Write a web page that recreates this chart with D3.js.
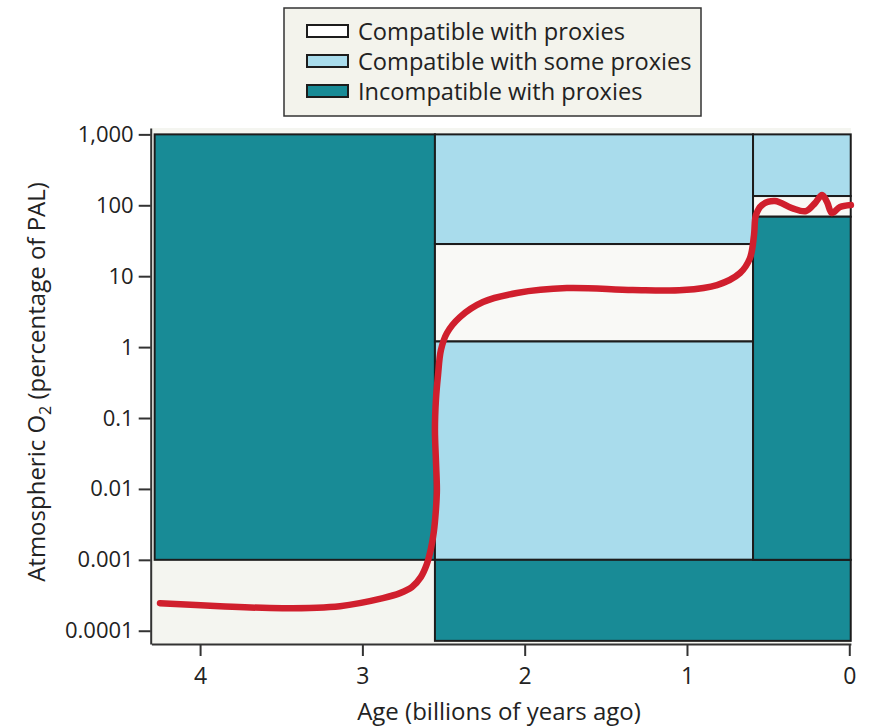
<!DOCTYPE html>
<html>
<head>
<meta charset="utf-8">
<script src="https://cdn.jsdelivr.net/npm/d3@7"></script>
<style>
  html, body { margin: 0; padding: 0; background: #ffffff; }
  svg { display: block; }
  text { font-family: "Open Sans", "DejaVu Sans", sans-serif; fill: #222; }
</style>
</head>
<body>
<svg id="chart" width="875" height="727"></svg>
<script>
// Axis ticks
const xTicks = [4, 3, 2, 1, 0];
const xTickLabels = ["4", "3", "2", "1", "0"];
const yTicks = [1000, 100, 10, 1, 0.1, 0.01, 0.001, 0.0001];
const yTickLabels = ["1,000", "100", "10", "1", "0.1", "0.01", "0.001", "0.0001"];

// Constraint boxes: age span (Ga), O2 span (% PAL) and proxy class
const boxAgeOld   = [4.28, 2.553, 2.553, 2.553, 2.553, 0.593, 0.593, 0.593];
const boxAgeYoung = [2.553, 0.593, 0.593, 0.593, -0.009, -0.009, -0.009, -0.009];
const boxLow      = [0.001, 28.4, 1.2, 0.001, 7.2e-5, 135, 69, 0.001];
const boxHigh     = [1000, 1000, 28.4, 1.2, 0.001, 1000, 135, 69];
const boxClass    = ["incompatible", "some", "compatible", "some", "incompatible", "some", "compatible", "incompatible"];

// Legend entries
const legendClasses = ["compatible", "some", "incompatible"];
const legendLabels = ["Compatible with proxies", "Compatible with some proxies", "Incompatible with proxies"];

// Atmospheric O2 history curve
const curveAge = [4.247, 3.877, 3.489, 3.138, 2.873, 2.768, 2.695, 2.640, 2.603, 2.578, 2.560, 2.548, 2.541,
                  2.547, 2.553, 2.547, 2.534, 2.516, 2.479, 2.399, 2.257, 2.048, 1.740, 1.334, 1.025, 0.815,
                  0.673, 0.612, 0.587, 0.575, 0.538, 0.458, 0.353, 0.267, 0.211, 0.168, 0.137, 0.107, 0.057, -0.010];
const curveO2  = [2.45e-4, 2.22e-4, 2.08e-4, 2.22e-4, 2.88e-4, 3.39e-4, 4.12e-4, 5.70e-4, 8.69e-4, 1.42e-3, 2.46e-3, 4.71e-3, 9.6e-3,
                  0.0255, 0.0676, 0.179, 0.403, 0.908, 1.58, 2.65, 4.32, 5.78, 6.79, 6.37, 6.37, 7.50,
                  11.1, 18.0, 38.0, 72.8, 100.7, 114.5, 91.2, 82.8, 107.4, 139.3, 110.9, 77.6, 94.4, 100.7];

const fillFor = { compatible: "#f9f9f6", some: "#a9dcec", incompatible: "#188b96" };

const svg = d3.select("#chart");

const x = d3.scaleLinear().domain([4.3, -0.01]).range([151.4, 850.9]);
const y = d3.scaleLog().domain([6.5e-5, 1230]).range([644, 128]);

// Plot background
svg.append("rect")
  .attr("x", x(4.3)).attr("y", y(1230))
  .attr("width", x(-0.01) - x(4.3)).attr("height", y(6.5e-5) - y(1230))
  .attr("fill", "#f4f5f0");

// Constraint boxes
const boxes = d3.range(boxAgeOld.length).map(i => ({
  a0: boxAgeOld[i], a1: boxAgeYoung[i], lo: boxLow[i], hi: boxHigh[i], cls: boxClass[i]
}));
svg.append("g").selectAll("rect").data(boxes).join("rect")
  .attr("x", d => x(d.a0))
  .attr("y", d => y(d.hi))
  .attr("width", d => x(d.a1) - x(d.a0))
  .attr("height", d => y(d.lo) - y(d.hi))
  .attr("fill", d => fillFor[d.cls])
  .attr("stroke", "#1c1c1c")
  .attr("stroke-width", 2);

// Oxygen curve
const line = d3.line()
  .x(d => x(d[0]))
  .y(d => y(d[1]))
  .curve(d3.curveCatmullRom.alpha(0.5));
svg.append("path")
  .datum(curveAge.map((a, i) => [a, curveO2[i]]))
  .attr("d", line)
  .attr("fill", "none")
  .attr("stroke", "#d01f2d")
  .attr("stroke-width", 6.5)
  .attr("stroke-linecap", "round")
  .attr("stroke-linejoin", "round");

// Axes
const yAxis = d3.axisLeft(y)
  .tickValues(yTicks)
  .tickFormat((d, i) => yTickLabels[i])
  .tickSizeInner(12).tickSizeOuter(0).tickPadding(5);
const gy = svg.append("g").attr("transform", `translate(${x(4.3) - 0.7},0)`).call(yAxis);

const xAxis = d3.axisBottom(x)
  .tickValues(xTicks)
  .tickFormat((d, i) => xTickLabels[i])
  .tickSizeInner(12).tickSizeOuter(0).tickPadding(12);
const gx = svg.append("g").attr("transform", `translate(0,${y(6.5e-5)})`).call(xAxis);

[gx, gy].forEach(g => {
  g.select(".domain").attr("stroke", "#333").attr("stroke-width", 2);
  g.selectAll(".tick line").attr("stroke", "#333").attr("stroke-width", 2);
  g.selectAll(".tick text")
    .attr("font-family", "'Open Sans', sans-serif")
    .attr("fill", "#222");
});
gy.selectAll(".tick text").attr("font-size", 22);
gx.selectAll(".tick text").attr("font-size", 23);

// Axis titles
svg.append("text")
  .attr("x", 499)
  .attr("y", 720)
  .attr("text-anchor", "middle")
  .attr("font-size", 24)
  .text("Age (billions of years ago)");

const yt = svg.append("text")
  .attr("transform", `translate(45,${(y(6.5e-5) + y(1230)) / 2 - 4}) rotate(-90)`)
  .attr("text-anchor", "middle")
  .attr("font-size", 24);
yt.append("tspan").text("Atmospheric O");
yt.append("tspan").attr("font-size", 16).attr("dy", 6).text("2");
yt.append("tspan").attr("dy", -6).text(" (percentage of PAL)");

// Legend
const lg = svg.append("g");
lg.append("rect")
  .attr("x", 284).attr("y", 8)
  .attr("width", 417).attr("height", 108)
  .attr("fill", "#f3f3ec").attr("stroke", "#333").attr("stroke-width", 1.5);
const rows = lg.selectAll("g.row").data(legendClasses).join("g")
  .attr("class", "row")
  .attr("transform", (d, i) => `translate(307,${25 + i * 30})`);
rows.append("rect")
  .attr("width", 41).attr("height", 12)
  .attr("fill", d => fillFor[d] === "#f9f9f6" ? "#ffffff" : fillFor[d])
  .attr("stroke", "#1c1c1c").attr("stroke-width", 2);
rows.append("text")
  .attr("x", 51).attr("y", 14.5)
  .attr("font-size", 23.6)
  .text((d, i) => legendLabels[i]);
</script>
</body>
</html>
